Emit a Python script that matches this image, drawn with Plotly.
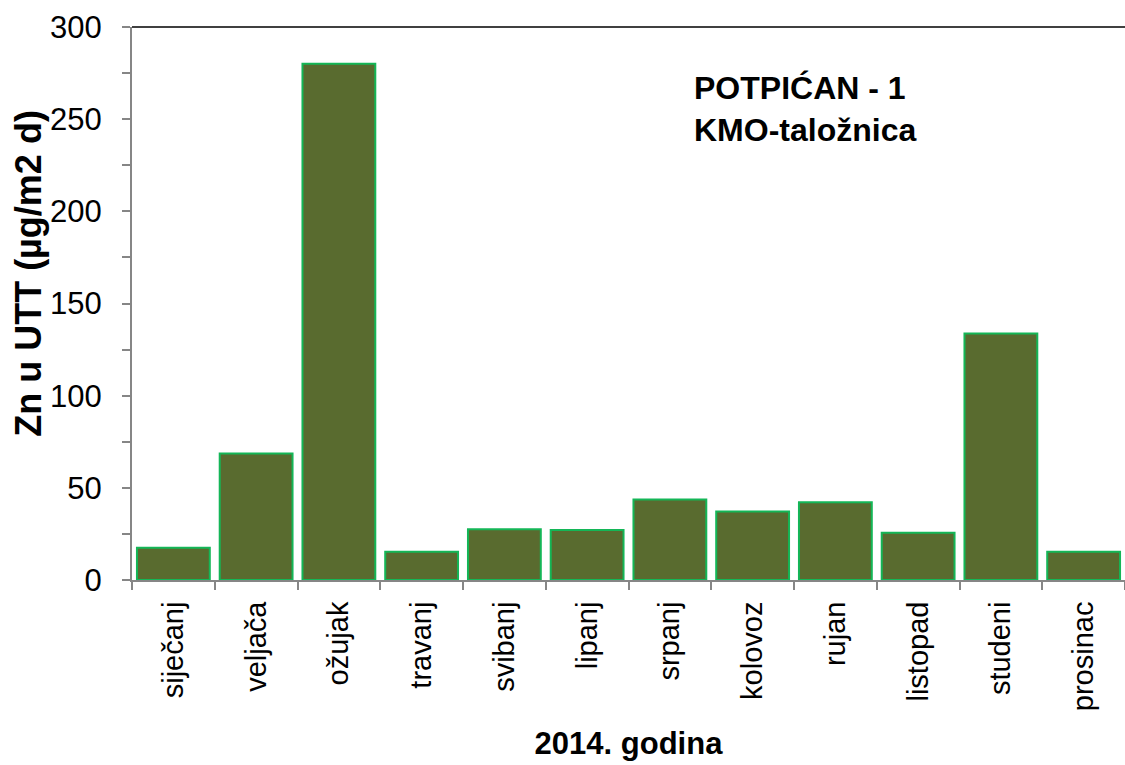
import plotly.graph_objects as go

months = ["siječanj", "veljača", "ožujak", "travanj", "svibanj", "lipanj",
          "srpanj", "kolovoz", "rujan", "listopad", "studeni", "prosinac"]
zn_values = [17.5, 68.6, 280.1, 15.3, 27.5, 27.1, 43.7, 37.2, 42.2, 25.6, 133.7, 15.3]

y_title = "Zn u UTT (µg/m2 d)"
x_title = "2014. godina"
label_lines = ["POTPIĆAN - 1", "KMO-taložnica"]

FONT = "Liberation Sans, Arial, sans-serif"

fig = go.Figure()
fig.add_trace(go.Bar(
    x=months, y=zn_values,
    marker=dict(color="#596b2f", line=dict(color="#14b657", width=2)),
    hoverinfo="x+y",
))

fig.update_layout(
    width=1125, height=765,
    margin=dict(l=132, r=0, t=27, b=185),
    paper_bgcolor="white", plot_bgcolor="white",
    bargap=0.12,
    showlegend=False,
    font=dict(family=FONT, color="black"),
    annotations=[
        dict(
            text="<b>" + label_lines[0] + "<br>" + label_lines[1] + "</b>",
            x=0.564, y=0.851, xref="paper", yref="paper",
            xanchor="left", yanchor="middle", align="left",
            showarrow=False, font=dict(size=32, family=FONT, color="black"),
        ),
        dict(
            text="<b>" + y_title + "</b>", textangle=-90,
            x=-0.105, y=0.555, xref="paper", yref="paper",
            xanchor="center", yanchor="middle",
            showarrow=False, font=dict(size=36, family=FONT, color="black"),
        ),
    ],
    shapes=[dict(type="line", xref="paper", yref="paper", x0=0, x1=1, y0=1, y1=1,
                 line=dict(color="black", width=1.5))],
)

fig.update_yaxes(
    range=[0, 300], dtick=50, tick0=0,
    showgrid=False, zeroline=False,
    showline=True, linecolor="#868686", linewidth=2,
    ticks="outside", ticklen=8, tickcolor="#868686", tickwidth=2,
    minor=dict(dtick=25, ticks="outside", ticklen=8, tickcolor="#868686", tickwidth=1.5),
    tickfont=dict(size=31, family=FONT, color="black"),
    ticklabelstandoff=14,
)

fig.update_xaxes(
    showgrid=False, showline=True, linecolor="#868686", linewidth=2,
    ticks="outside", tickson="boundaries", ticklen=8, tickcolor="#868686", tickwidth=2,
    tickangle=-90,
    tickfont=dict(size=29, family=FONT, color="black"),
    ticklabelstandoff=8,
    title=dict(text="<b>" + x_title + "</b>", font=dict(size=31, family=FONT, color="black"), standoff=22),
)

fig.write_html("out.html", config={"displayModeBar": False},
               post_script="document.body.style.margin='0';")
